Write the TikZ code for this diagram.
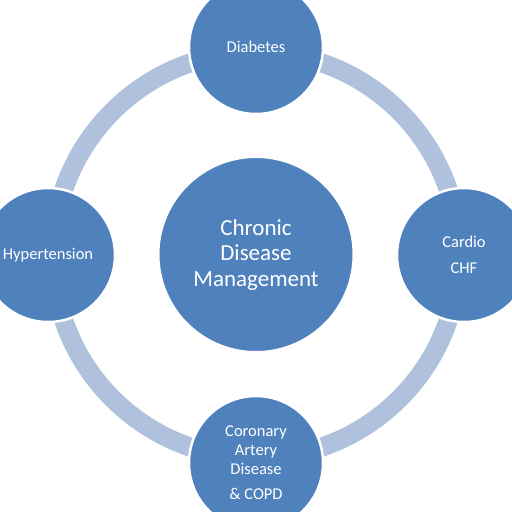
\documentclass[tikz,border=0pt]{standalone}
\usepackage{fontspec}
\setmainfont{Carlito}
\definecolor{cblue}{HTML}{4F81BD}
\definecolor{cband}{HTML}{AFC1DC}
\begin{document}
\begin{tikzpicture}[x=1pt,y=-1pt,
  sat/.style={circle,fill=cblue,draw=white,line width=2.5pt,minimum size=134pt,inner sep=0pt,text=white,align=center,font=\fontsize{16.5}{19}\selectfont},
  hub/.style={circle,fill=cblue,draw=white,line width=1pt,minimum size=194pt,inner sep=0pt,text=white,align=center,font=\fontsize{23}{25.5}\selectfont},
  band/.style={draw=cband,line width=19pt}]
\useasboundingbox (0,0) rectangle (512,512);
\clip (0,0) rectangle (512,512);
\coordinate (o) at (256,255);
\draw[band] (o) circle[radius=203];
\node[hub] (c) at (256,254.5) {Chronic\\Disease\\Management};
\node[sat] (d) at (256,47) {Diabetes};
\node[sat] (r) at (464,255) {Cardio\\[7pt]CHF};
\node[sat] (l) at (48,255) {Hypertension};
\node[sat] (b) at (256,463) {Coronary\\Artery\\Disease\\[6pt]\& COPD};
\end{tikzpicture}
\end{document}
